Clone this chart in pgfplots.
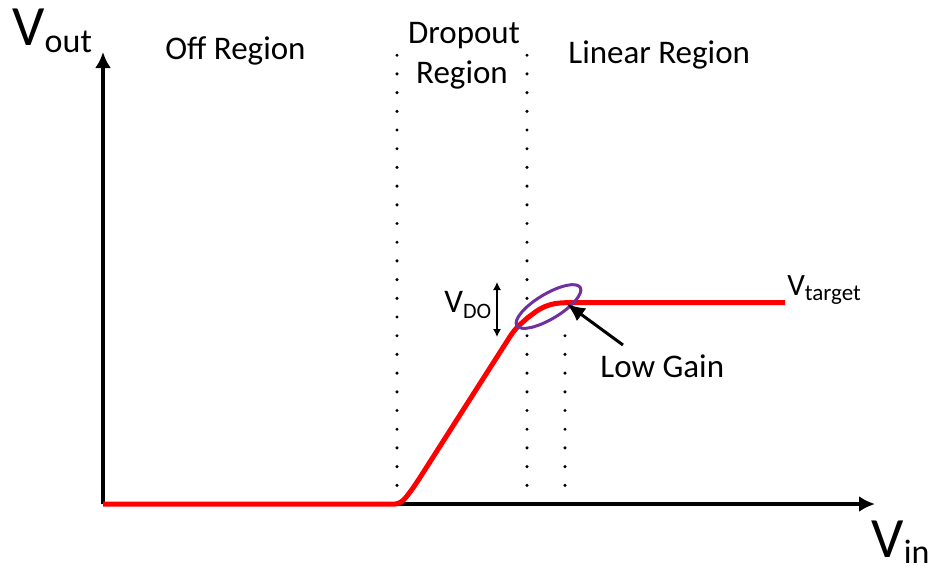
\documentclass[border=0pt]{standalone}
\usepackage{pgfplots}
\pgfplotsset{compat=1.18}
\usepackage{fontspec}
\setmainfont{Carlito}
\usetikzlibrary{arrows.meta,shapes.geometric}
\definecolor{vpurple}{RGB}{112,48,160}
\begin{document}
\begin{tikzpicture}
\begin{axis}[
  width=466pt, height=284.5pt, scale only axis,
  xmin=0, xmax=932, ymin=0, ymax=569, y dir=reverse,
  hide axis, clip=false]
% axes
\addplot[black, line width=1.6pt, -{Latex[length=8pt,width=8pt]}] coordinates {(103,504) (875,504)};
\addplot[black, line width=1.6pt, -{Latex[length=8pt,width=8pt]}] coordinates {(103,504) (103,52)};
% dotted region boundaries
\addplot[black, line width=1.7pt, line cap=round, dash pattern=on 0pt off 9.35pt] coordinates {(397,504) (397,55)};
\addplot[black, line width=1.7pt, line cap=round, dash pattern=on 0pt off 9.35pt] coordinates {(527,504) (527,55)};
\addplot[black, line width=1.7pt, line cap=round, dash pattern=on 0pt off 9.35pt] coordinates {(565,504) (565,318)};
% transfer curve
\addplot[red, line width=2.5pt, line join=round] coordinates {
 (103,504) (395,504) (398,503.5) (401,502) (404,499.5) (407,496) (410,492) (413,488)
 (416,483.5) (420,477.5) (511,335) (514,331) (517,327.5) (520,324.5) (524,321)
 (528,317.5) (532,314.5) (536,311.5) (540,309) (545,306.5) (550,304.8) (555,303.6)
 (560,303) (565,302.7) (785,302.5)};
% ellipse
\node[ellipse, draw=vpurple, line width=1.5pt, minimum width=37pt, minimum height=12.5pt,
      inner sep=0pt, rotate=31] at (axis cs:548.5,306.5) {};
% arrows
\addplot[black, line width=1.5pt, -{Latex[length=9pt,width=8pt]}] coordinates {(623,345) (567,304)};
\addplot[black, line width=0.6pt, {Latex[length=4pt,width=4pt]}-{Latex[length=4pt,width=4pt]}] coordinates {(497,282) (497,337)};
% texts
\node[anchor=base west, inner sep=0pt] at (axis cs:12,45)
  {\fontsize{28.5}{30}\selectfont V\raisebox{-3.5pt}{\fontsize{17}{18}\selectfont out}};
\node[anchor=base west, inner sep=0pt] at (axis cs:871,557)
  {\fontsize{28.5}{30}\selectfont V\raisebox{-3pt}{\fontsize{17}{18}\selectfont in}};
\node[anchor=base west, inner sep=0pt] at (axis cs:165,59)
  {\fontsize{16.5}{18}\selectfont Off Region};
\node[anchor=base, inner sep=0pt] at (axis cs:464,43)
  {\fontsize{16.5}{18}\selectfont Dropout};
\node[anchor=base, inner sep=0pt] at (axis cs:462,83)
  {\fontsize{16.5}{18}\selectfont Region};
\node[anchor=base west, inner sep=0pt] at (axis cs:568,63)
  {\fontsize{16.5}{18}\selectfont Linear Region};
\node[anchor=base west, inner sep=0pt] at (axis cs:600,377)
  {\fontsize{16.5}{18}\selectfont Low Gain};
\node[anchor=base west, inner sep=0pt] at (axis cs:444,312)
  {\fontsize{16.5}{18}\selectfont V\raisebox{-3pt}{\fontsize{11}{12}\selectfont DO}};
\node[anchor=base west, inner sep=0pt] at (axis cs:787,295)
  {\fontsize{15.5}{18}\selectfont V\raisebox{-2.5pt}{\fontsize{11.5}{12}\selectfont target}};
\end{axis}
\pgfresetboundingbox
\useasboundingbox (current axis.south west) rectangle (current axis.north east);
\end{tikzpicture}
\end{document}
